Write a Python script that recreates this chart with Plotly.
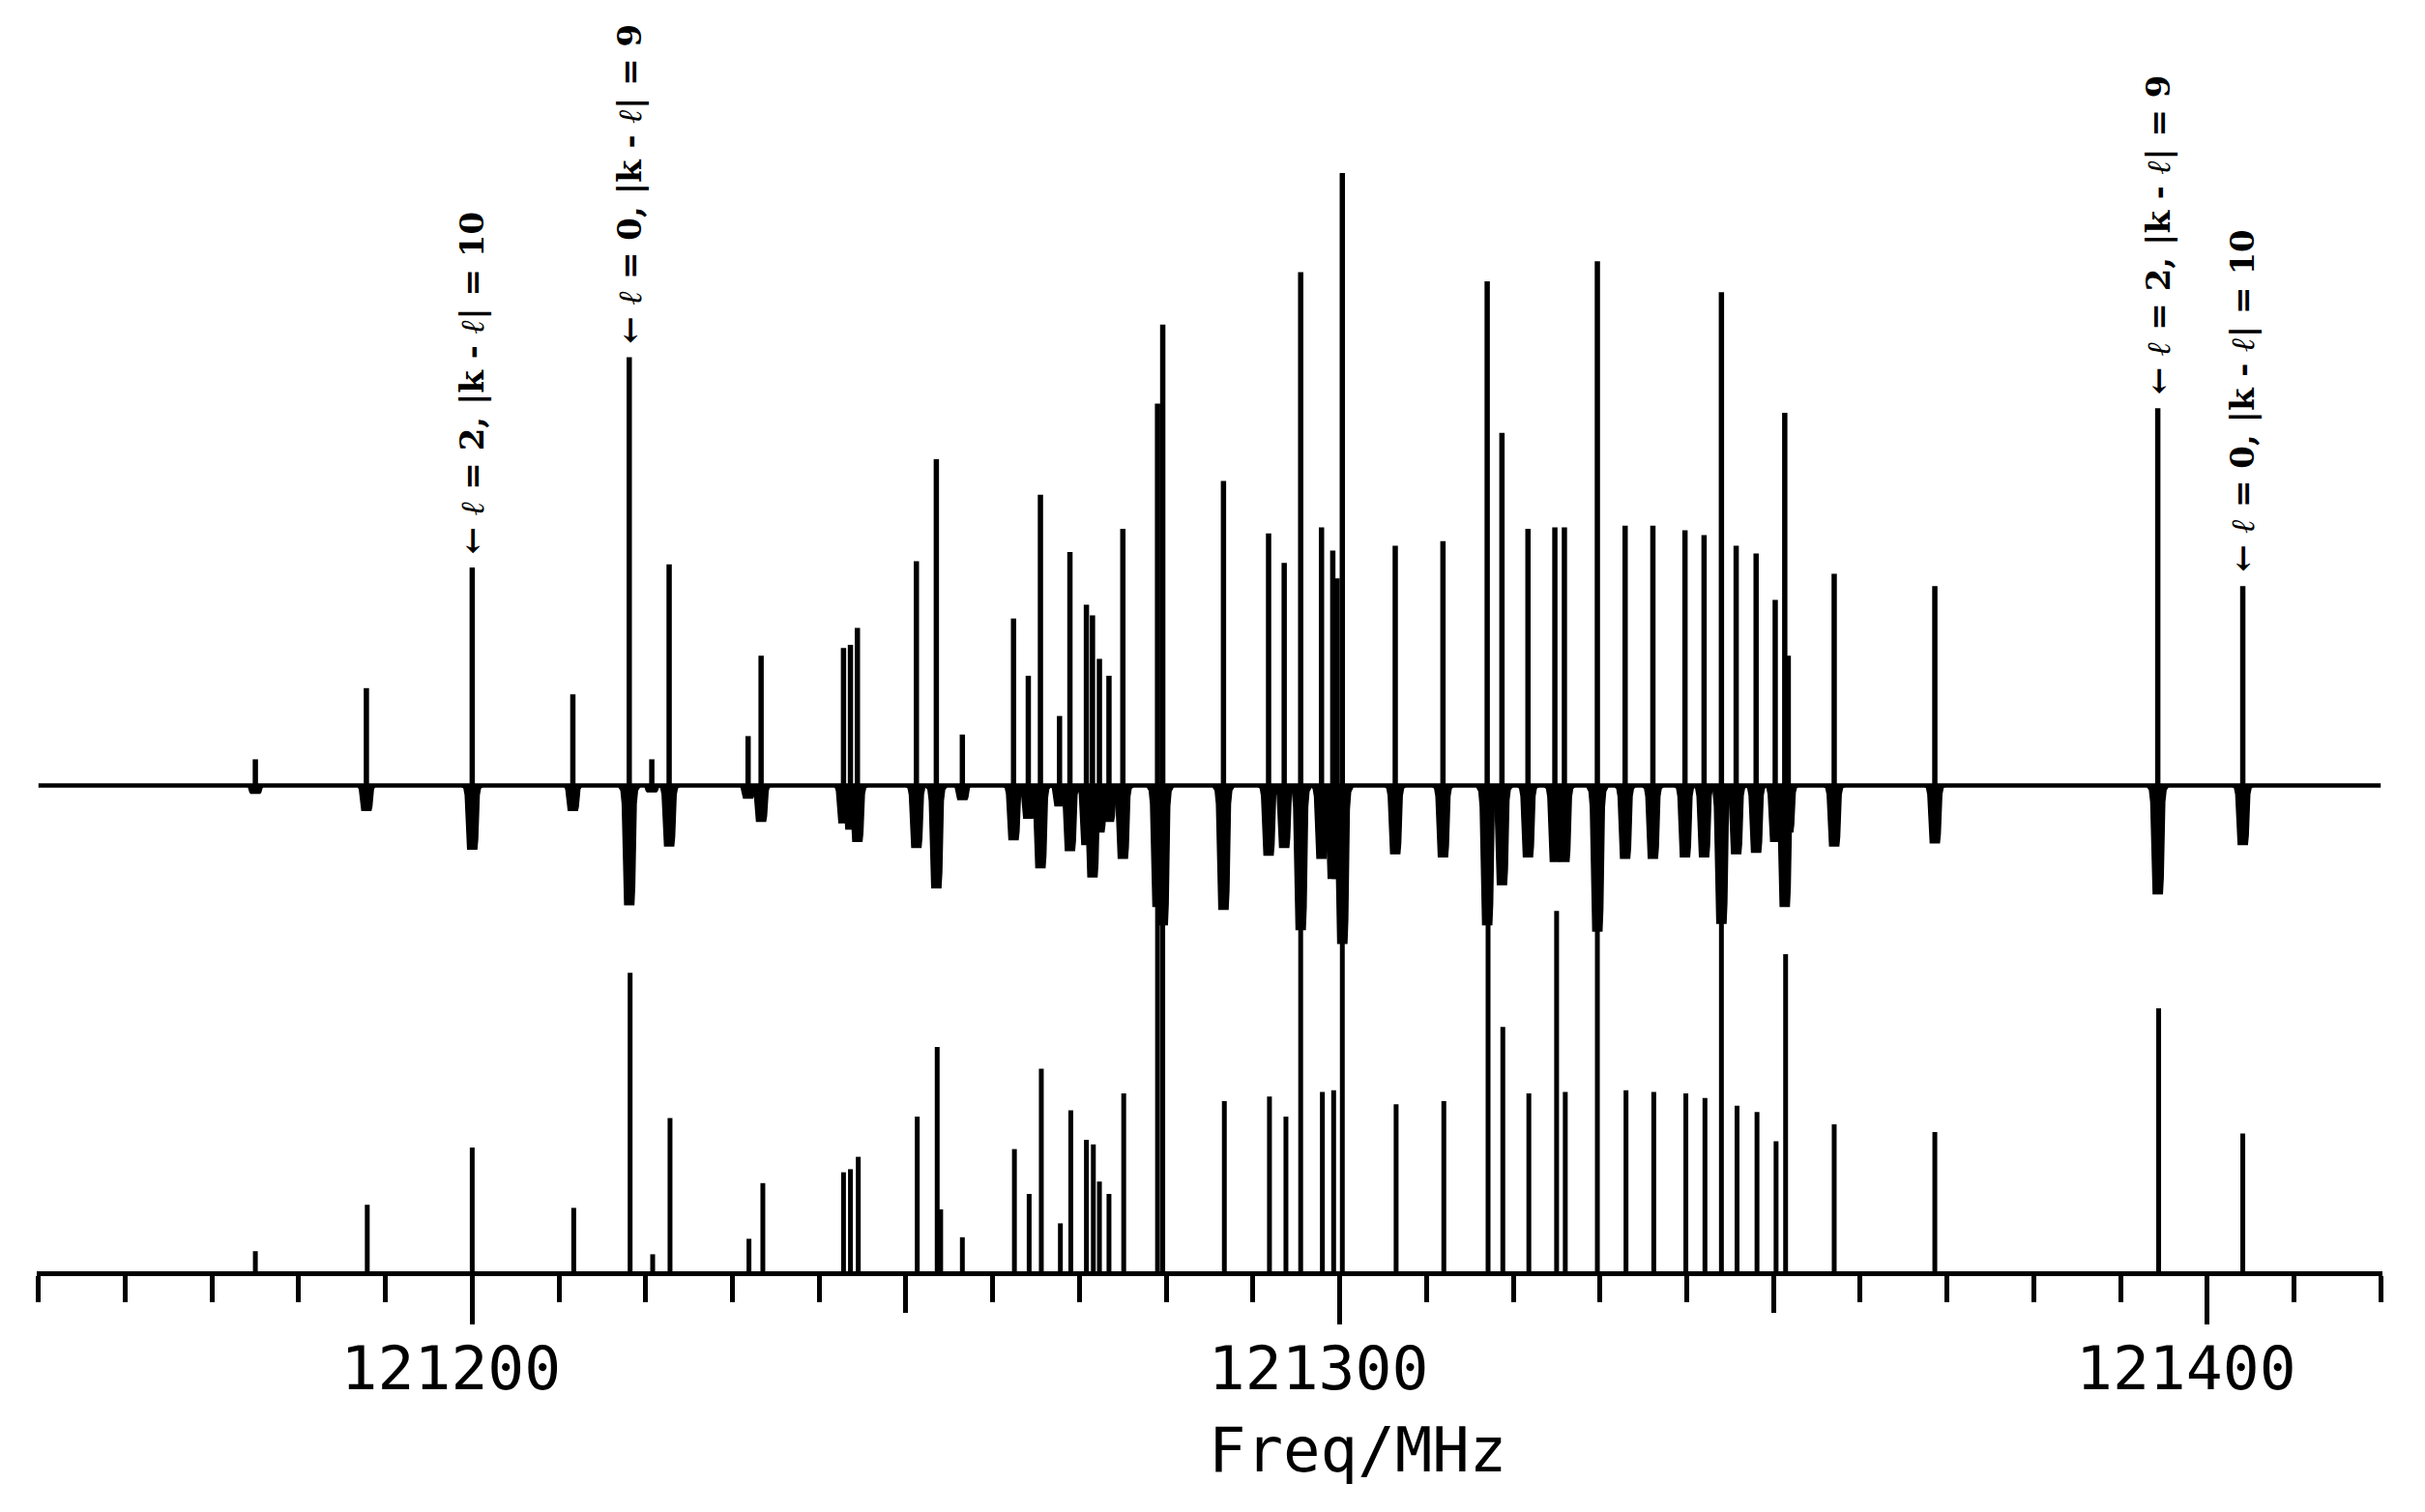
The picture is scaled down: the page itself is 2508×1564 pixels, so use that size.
import plotly.graph_objects as go

# upper trace: line frequency (MHz), spike height, dip depth (same units as sticks)
upper_freq = [
    121175.0, 121187.8, 121200.0, 121211.6, 121218.1, 121220.7, 121222.7,
    121231.8, 121233.3, 121242.8, 121243.6, 121244.4, 121251.2, 121253.5,
    121256.5, 121262.4, 121264.1, 121265.5, 121267.7, 121268.9, 121270.8,
    121271.5, 121272.3, 121273.4, 121275.0, 121279.0, 121279.6, 121286.6,
    121291.8, 121293.6, 121295.5, 121297.9, 121299.2, 121299.7, 121300.3,
    121306.4, 121311.9, 121317.0, 121318.7, 121321.7, 121324.8, 121325.9,
    121329.7, 121332.9, 121336.1, 121339.8, 121342.0, 121344.0, 121345.7,
    121348.0, 121350.2, 121351.3, 121351.7, 121357.0, 121368.6, 121394.3,
    121404.1,
]
upper_up = [
    17, 63, 141, 59, 277, 17, 143,
    32, 84, 89, 91, 102, 145, 211,
    33, 108, 71, 188, 45, 151, 117,
    110, 82, 71, 166, 247, 298, 197,
    163, 144, 332, 167, 152, 134, 396,
    155, 158, 326, 228, 166, 167, 167,
    339, 168, 168, 165, 162, 319, 155,
    150, 120, 241, 84, 137, 129, 244,
    129,
]
upper_down = [
    5, 16, 41, 16, 77, 4, 39,
    8, 23, 24, 28, 36, 40, 66,
    9, 35, 21, 53, 13, 42, 38,
    59, 30, 23, 47, 78, 90, 80,
    45, 40, 93, 47, 60, 60, 102,
    44, 46, 90, 64, 46, 49, 49,
    94, 47, 47, 46, 46, 89, 44,
    43, 36, 78, 30, 39, 37, 70,
    38,
]

# lower stick spectrum: frequency (MHz), intensity
stick_freq = [
    121175.0, 121187.9, 121200.0, 121211.7, 121218.2, 121220.8, 121222.8,
    121231.9, 121233.5, 121242.8, 121243.6, 121244.5, 121251.3, 121253.6,
    121254.0, 121256.5, 121262.5, 121264.2, 121265.6, 121267.8, 121269.0,
    121270.8, 121271.6, 121272.3, 121273.4, 121275.1, 121279.0, 121279.6,
    121286.7, 121291.9, 121293.8, 121295.5, 121298.0, 121299.3, 121300.3,
    121306.5, 121312.0, 121317.1, 121318.8, 121321.8, 121325.0, 121326.0,
    121329.7, 121333.0, 121336.2, 121339.9, 121342.1, 121344.0, 121345.8,
    121348.1, 121350.3, 121351.4, 121357.0, 121368.6, 121394.4, 121404.1,
]
stick_int = [
    13, 43, 80, 41, 193, 11, 99,
    21, 57, 64, 66, 74, 100, 145,
    40, 22, 79, 50, 131, 31, 104,
    85, 82, 58, 50, 115, 236, 224,
    110, 113, 100, 222, 116, 117, 212,
    108, 110, 224, 158, 115, 233, 116,
    220, 117, 116, 115, 112, 225, 107,
    103, 84, 205, 95, 90, 170, 89,
]

# assignment labels
label_freq = [121200.0, 121218.1, 121394.3, 121404.1]
label_text = [
    "← <i>ℓ</i> = 2, |k - <i>ℓ</i>| = 10",
    "← <i>ℓ</i> = 0, |k - <i>ℓ</i>| = 9",
    "← <i>ℓ</i> = 2, |k - <i>ℓ</i>| = 9",
    "← <i>ℓ</i> = 0, |k - <i>ℓ</i>| = 10",
]

tick_major = [121200, 121300, 121400]
tick_mid = [121250, 121350]
tick_minor = list(range(121150, 121421, 10))
x_lo, x_hi = 121150, 121420

BASE = 314          # upper trace baseline above the axis
INK = "black"
# dip outline: offset (MHz) and fraction of the dip depth
DIP_DX = [-1.3, -0.95, -0.8, -0.62, -0.52, 0.52, 0.62, 0.8, 0.95, 1.3]
DIP_FR = [0, 0.04, 0.15, 0.85, 1, 1, 0.85, 0.15, 0.04, 0]

dip_x, dip_y = [], []
spike_x, spike_y = [], []
for f, up, dn in zip(upper_freq, upper_up, upper_down):
    dip_x += [f + dx for dx in DIP_DX] + [None]
    dip_y += [BASE - dn * fr for fr in DIP_FR] + [None]
    spike_x += [f, f, None]
    spike_y += [BASE, BASE + up, None]

stick_x, stick_y = [], []
for f, h in zip(stick_freq, stick_int):
    stick_x += [f, f, None]
    stick_y += [0, h, None]

fig = go.Figure()
fig.add_trace(go.Scatter(x=[x_lo, x_hi], y=[BASE, BASE], mode="lines",
                         line=dict(color=INK, width=4.5), hoverinfo="skip"))
fig.add_trace(go.Scatter(x=dip_x, y=dip_y, mode="lines", fill="toself",
                         fillcolor=INK, line=dict(color=INK, width=1.5),
                         hoverinfo="skip"))
fig.add_trace(go.Scatter(x=spike_x, y=spike_y, mode="lines",
                         line=dict(color=INK, width=5.5), hoverinfo="skip"))
fig.add_trace(go.Scatter(x=stick_x, y=stick_y, mode="lines",
                         line=dict(color=INK, width=5), hoverinfo="skip"))
# carrier for the second axis that draws the 100 / 50 MHz ticks
fig.add_trace(go.Scatter(x=tick_mid, y=[0, 0], xaxis="x2", mode="markers",
                         marker=dict(opacity=0), hoverinfo="skip"))

up_at = dict(zip(upper_freq, upper_up))
for f, txt in zip(label_freq, label_text):
    fig.add_annotation(
        x=f, y=BASE + up_at[f], xref="x", yref="y", text=f"<b>{txt}</b>",
        showarrow=False, textangle=-90, xanchor="center", yanchor="bottom",
        yshift=12, font=dict(family="DejaVu Serif", size=34, color=INK))

fig.add_annotation(
    x=0.563, y=-0.124, xref="paper", yref="paper", text="Freq/MHz",
    showarrow=False, xanchor="center", yanchor="top",
    font=dict(family="DejaVu Sans Mono", size=64, color=INK))

# page body adds 8px on each side, so the figure is 16px smaller than the window
fig.update_layout(
    width=2492, height=1548,
    margin=dict(l=30, r=36, t=131, b=241),
    paper_bgcolor="white", plot_bgcolor="white",
    showlegend=False,
    xaxis=dict(
        range=[x_lo - 0.2, x_hi + 0.2],
        tickmode="array", tickvals=tick_minor,
        ticktext=[str(v) if v in tick_major else "" for v in tick_minor],
        ticks="outside", ticklen=27, tickwidth=4.5, tickcolor=INK,
        showline=True, linewidth=5, linecolor=INK,
        showgrid=False, zeroline=False,
        tickfont=dict(family="DejaVu Sans Mono", size=63, color=INK),
        ticklabelshift=-22, ticklabelstandoff=14,
    ),
    xaxis2=dict(
        overlaying="x", matches="x", anchor="y", side="bottom",
        tickmode="array", tickvals=tick_major, ticks="outside", ticklen=54,
        tickwidth=4.5, tickcolor=INK, showticklabels=False,
        minor=dict(tickmode="array", tickvals=tick_mid, ticks="outside",
                   ticklen=42, tickwidth=4.5, tickcolor=INK, showgrid=False),
        showline=False, showgrid=False, zeroline=False,
    ),
    yaxis=dict(range=[0, 735], visible=False),
)

fig.write_html("out.html")
